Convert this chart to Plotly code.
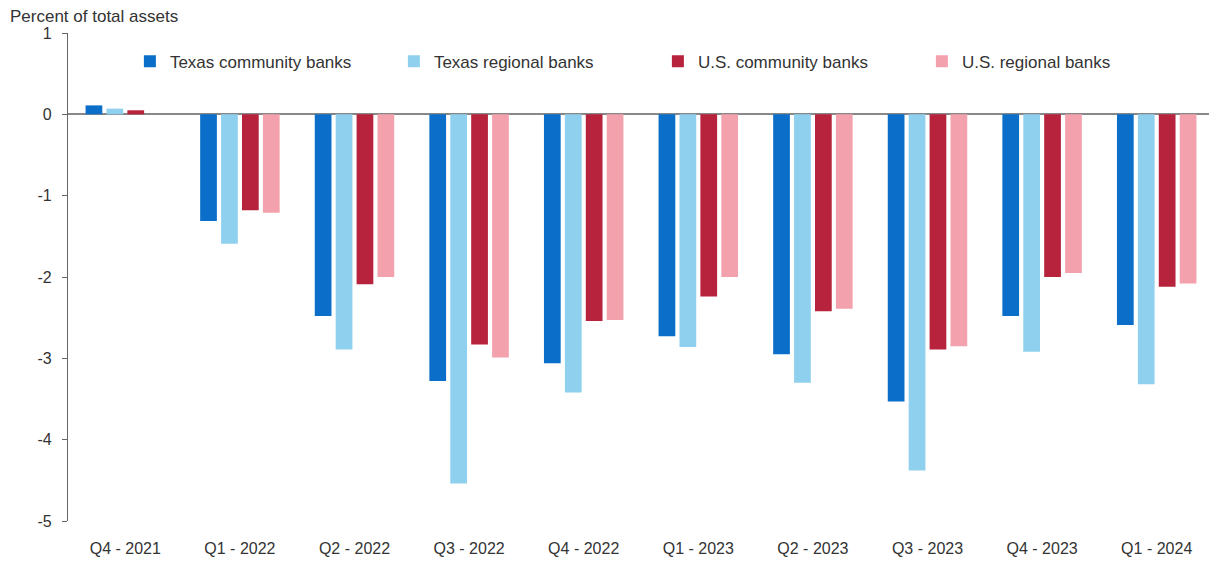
import plotly.graph_objects as go

quarters = ["Q4 - 2021", "Q1 - 2022", "Q2 - 2022", "Q3 - 2022", "Q4 - 2022",
            "Q1 - 2023", "Q2 - 2023", "Q3 - 2023", "Q4 - 2023", "Q1 - 2024"]
tx_community = [0.11, -1.31, -2.48, -3.28, -3.06, -2.73, -2.95, -3.53, -2.48, -2.59]
tx_regional = [0.07, -1.59, -2.89, -4.54, -3.42, -2.86, -3.30, -4.38, -2.92, -3.32]
us_community = [0.05, -1.18, -2.09, -2.83, -2.54, -2.24, -2.42, -2.89, -2.00, -2.12]
us_regional = [0.0, -1.21, -2.00, -2.99, -2.53, -2.00, -2.39, -2.85, -1.95, -2.08]
y_ticks = [1, 0, -1, -2, -3, -4, -5]

series = [
    ("Texas community banks", tx_community, "#0b6fc9"),
    ("Texas regional banks", tx_regional, "#8fd0ef"),
    ("U.S. community banks", us_community, "#b7223c"),
    ("U.S. regional banks", us_regional, "#f4a1ae"),
]

fig = go.Figure()
for name, vals, col in series:
    fig.add_trace(go.Bar(x=quarters, y=vals, name=name, marker_color=col,
                         marker_line_width=0))

n = len(quarters)
fig.update_layout(
    width=1217, height=568,
    margin=dict(l=60, r=11, t=25, b=55, autoexpand=False),
    paper_bgcolor="white", plot_bgcolor="white",
    font=dict(family="Liberation Sans, Arial, sans-serif", size=16, color="#333"),
    barmode="group", bargap=0.27, bargroupgap=0.2,
    showlegend=True,
    legend=dict(orientation="h", x=0.054, y=0.978, xanchor="left", yanchor="top",
                font=dict(size=17, color="#333"), entrywidth=219, entrywidthmode="pixels",
                itemwidth=30, bgcolor="rgba(0,0,0,0)"),
    xaxis=dict(showgrid=False, showline=False, ticks="", ticklabelstandoff=16,
               automargin=False,
               tickfont=dict(size=16, color="#333"), range=[-0.5, n - 0.5]),
    xaxis2=dict(overlaying="x", anchor="free", position=5/6, range=[-0.5, n - 0.5],
                tickmode="array", tickvals=[i + 0.5 for i in range(n - 1)],
                showticklabels=False, ticks="outside", ticklen=6, tickcolor="#999",
                showline=False, showgrid=False, zeroline=False, automargin=False),
    yaxis=dict(range=[-5, 1], tickmode="array", tickvals=y_ticks,
               ticktext=[str(v) for v in y_ticks], automargin=False,
               showgrid=False, showline=True, ticklabelstandoff=7,
               linecolor="#666", linewidth=1.2, ticks="outside", ticklen=5,
               tickcolor="#666", zeroline=True, zerolinecolor="#888", zerolinewidth=1.5,
               tickfont=dict(size=16, color="#333")),
)
fig.add_annotation(text="Percent of total assets", xref="paper", yref="paper",
                   x=-60/1146, y=1, xanchor="left", yanchor="bottom", yshift=5,
                   showarrow=False, font=dict(size=17, color="#333"))
fig.write_html("out.html")
